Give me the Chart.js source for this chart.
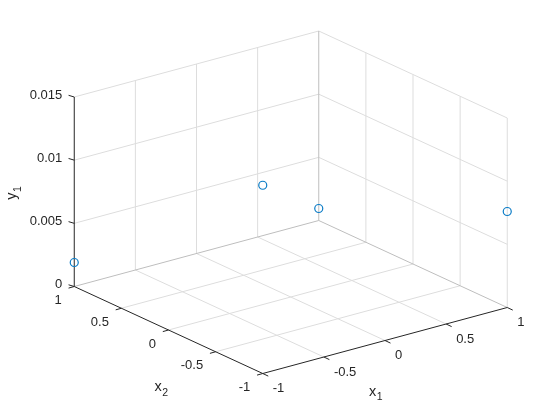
<!DOCTYPE html>
<html>
<head>
<meta charset="utf-8">
<style>
  html, body { margin: 0; padding: 0; background: #fff; }
  canvas { display: block; }
</style>
<script src="https://cdn.jsdelivr.net/npm/chart.js@4"></script>
</head>
<body>
<canvas id="myChart" width="560" height="420"></canvas>
<script>
var x1Values = [-1, -1, 1, 1];
var x2Values = [1, -1, 1, -1];
var y1Values = [0.0019, 0.0149, 0.00095, 0.0076];

var x1Ticks = [-1, -0.5, 0, 0.5, 1];
var x2Ticks = [-1, -0.5, 0, 0.5, 1];
var y1Ticks = [0, 0.005, 0.01, 0.015];
var y1TickLabels = ['0', '0.005', '0.01', '0.015'];

var GRID = 'rgb(221, 221, 221)';
var BOX = 'rgb(190, 190, 190)';
var AXIS = '#262626';
var MARKER = '#0b7cc6';
var FONT = '"Liberation Sans", Arial, sans-serif';

// fixed view of the cube, same as view(az, el) in the original figure
function project(x1, x2, y1) {
  return {
    x: 290.75 + 122.25 * x1 - 94.25 * x2,
    y: 297 - 33 * x1 - 43.5 * x2 - (189.5 / 0.015) * y1
  };
}

var datasets = [];

function line(a, b, color, order) {
  datasets.push({
    data: [project(a[0], a[1], a[2]), project(b[0], b[1], b[2])],
    showLine: true,
    borderColor: color,
    borderWidth: 1,
    pointRadius: 0,
    order: order
  });
}

function tick(p, dx, dy) {
  var from = project(p[0], p[1], p[2]);
  datasets.push({
    data: [from, { x: from.x + dx, y: from.y + dy }],
    showLine: true,
    borderColor: AXIS,
    borderWidth: 1,
    pointRadius: 0,
    order: 1
  });
}

// floor grid
x1Ticks.slice(1, 4).forEach(v => line([v, -1, 0], [v, 1, 0], GRID, 4));
x2Ticks.slice(1, 4).forEach(v => line([-1, v, 0], [1, v, 0], GRID, 4));

// back walls
x1Ticks.slice(1, 4).forEach(v => line([v, 1, 0], [v, 1, 0.015], GRID, 4));
x2Ticks.slice(0, 4).forEach(v => line([1, v, 0], [1, v, 0.015], GRID, 4));
y1Ticks.slice(1).forEach(v => {
  line([-1, 1, v], [1, 1, v], GRID, 4);
  line([1, 1, v], [1, -1, v], GRID, 4);
});

// back box edges
line([-1, 1, 0], [1, 1, 0], BOX, 3);
line([1, 1, 0], [1, -1, 0], BOX, 3);
line([1, 1, 0], [1, 1, 0.015], BOX, 3);

// axes
line([-1, 1, 0], [-1, 1, 0.015], AXIS, 2);
line([-1, 1, 0], [-1, -1, 0], AXIS, 2);
line([-1, -1, 0], [1, -1, 0], AXIS, 2);

y1Ticks.forEach(v => tick([-1, 1, v], -5.7, -1.7));
x2Ticks.forEach(v => tick([-1, v, 0], -5.7, 1.6));
x1Ticks.forEach(v => tick([v, -1, 0], 5.5, 2.6));

// measured points
datasets.push({
  data: x1Values.map((v, i) => project(v, x2Values[i], y1Values[i])),
  showLine: false,
  borderColor: MARKER,
  backgroundColor: 'rgba(0, 0, 0, 0)',
  borderWidth: 1.2,
  pointRadius: 4,
  clip: false,
  order: 0
});

function subscripted(ctx, base, sub, x, y) {
  ctx.font = '14.5px ' + FONT;
  ctx.textAlign = 'left';
  ctx.fillText(base, x, y);
  var w = ctx.measureText(base).width;
  ctx.font = '10.5px ' + FONT;
  ctx.fillText(sub, x + w + 0.5, y + 6);
}

var labelsPlugin = {
  id: 'labels3d',
  afterDraw(chart) {
    var ctx = chart.ctx;
    var sx = chart.scales.x, sy = chart.scales.y;
    function at(p) {
      var q = project(p[0], p[1], p[2]);
      return { x: sx.getPixelForValue(q.x), y: sy.getPixelForValue(q.y) };
    }
    ctx.save();
    ctx.fillStyle = AXIS;
    ctx.textBaseline = 'middle';
    ctx.font = '13px ' + FONT;

    ctx.textAlign = 'right';
    y1Ticks.forEach((v, i) => {
      var p = at([-1, 1, v]);
      ctx.fillText(y1TickLabels[i], p.x - 12, p.y - 2);
    });
    x2Ticks.forEach(v => {
      var p = at([-1, v, 0]);
      ctx.fillText(String(v), p.x - 12.5, p.y + 14);
    });
    ctx.textAlign = 'left';
    x1Ticks.forEach(v => {
      var p = at([v, -1, 0]);
      ctx.fillText(String(v), p.x + 10, p.y + 15);
    });

    var p1 = at([0, -1, 0]);
    subscripted(ctx, 'x', '1', p1.x - 16, p1.y + 51);
    var p2 = at([-1, 0, 0]);
    subscripted(ctx, 'x', '2', p2.x - 14, p2.y + 57);

    var p3 = at([-1, 1, 0.0075]);
    ctx.translate(p3.x - 62, p3.y + 8);
    ctx.rotate(-Math.PI / 2);
    subscripted(ctx, 'y', '1', 0, 0);
    ctx.restore();
  }
};

var chart = new Chart(document.getElementById('myChart'), {
  type: 'scatter',
  data: { datasets: datasets },
  options: {
    responsive: false,
    animation: false,
    layout: { padding: 0, autoPadding: false },
    plugins: { legend: { display: false }, tooltip: { enabled: false } },
    scales: {
      x: { type: 'linear', min: 0, max: 560, display: false },
      y: { type: 'linear', min: 0, max: 420, reverse: true, display: false }
    }
  },
  plugins: [labelsPlugin]
});
</script>
</body>
</html>
